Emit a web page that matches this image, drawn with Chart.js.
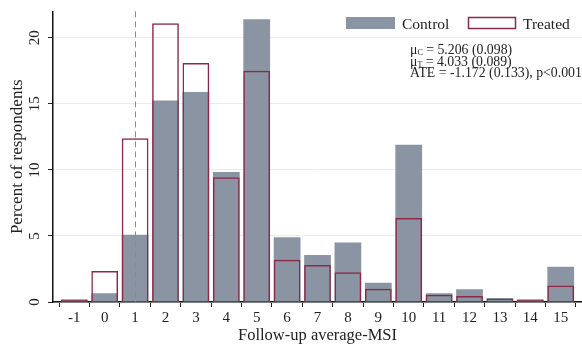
<!DOCTYPE html>
<html>
<head>
<meta charset="utf-8">
<script src="https://cdn.jsdelivr.net/npm/chart.js@4.4.1/dist/chart.umd.min.js"></script>
<style>
  html, body { margin: 0; padding: 0; background: #fff; }
  #wrap { width: 582px; height: 349px; }
</style>
</head>
<body>
<div id="wrap"><canvas id="msiChart"></canvas></div>
<script>
// follow-up average MSI, percent of respondents per bin
const msiBins = [-1, 0, 1, 2, 3, 4, 5, 6, 7, 8, 9, 10, 11, 12, 13, 14, 15];
const controlPct = [0.2, 0.67, 5.1, 15.25, 15.9, 9.85, 21.4, 4.9, 3.55, 4.5, 1.45, 11.9, 0.67, 0.97, 0.3, 0.2, 2.67];
const treatedPct = [0.15, 2.35, 12.4, 21.1, 18.1, 9.45, 17.5, 3.2, 2.8, 2.25, 1.0, 6.35, 0.55, 0.45, 0.25, 0.15, 1.25];
const yTicks = [0, 5, 10, 15, 20];
const cutoff = 1;
const statLines = [
  ['\u03bc', 'C', ' = 5.206 (0.098)'],
  ['\u03bc', 'T', ' = 4.033 (0.089)'],
  ['ATE = -1.172 (0.133), p<0.001', '', '']
];

const serif = '"Liberation Serif", "DejaVu Serif", serif';
const grey = '#8a94a2';
const maroon = '#8b2a48';

const extras = {
  id: 'extras',
  afterDatasetsDraw(chart) {
    const ctx = chart.ctx;
    const x = chart.scales.x;
    const area = chart.chartArea;
    ctx.save();
    // dashed reference line
    ctx.strokeStyle = '#8c8c8c';
    ctx.lineWidth = 1;
    ctx.setLineDash([6, 4]);
    const cx = Math.round(x.getPixelForValue(cutoff)) + 0.5;
    ctx.beginPath();
    ctx.moveTo(cx, area.top);
    ctx.lineTo(cx, area.bottom);
    ctx.stroke();
    ctx.setLineDash([]);
    ctx.restore();
  },
  afterDraw(chart) {
    const ctx = chart.ctx;
    const y = chart.scales.y;
    ctx.save();
    // rotated y tick labels
    ctx.fillStyle = '#222';
    ctx.font = '15px ' + serif;
    ctx.textAlign = 'center';
    ctx.textBaseline = 'middle';
    yTicks.forEach(v => {
      ctx.save();
      ctx.translate(35, y.getPixelForValue(v));
      ctx.rotate(-Math.PI / 2);
      ctx.fillText(String(v), 0, 0);
      ctx.restore();
    });

    // legend
    ctx.textAlign = 'left';
    ctx.textBaseline = 'alphabetic';
    ctx.font = '15.5px ' + serif;
    ctx.fillStyle = grey;
    ctx.fillRect(346, 17, 49, 12);
    ctx.fillStyle = '#222';
    ctx.fillText(chart.data.datasets[1].label, 402, 29);
    ctx.strokeStyle = maroon;
    ctx.lineWidth = 1.5;
    ctx.strokeRect(468.5, 17.5, 47, 11);
    ctx.fillText(chart.data.datasets[0].label, 523, 29);

    // stats text
    let base = 54;
    statLines.forEach(parts => {
      let tx = 410;
      ctx.font = '13.8px ' + serif;
      ctx.fillText(parts[0], tx, base);
      tx += ctx.measureText(parts[0]).width;
      if (parts[1]) {
        ctx.font = '8px ' + serif;
        ctx.fillText(parts[1], tx, base + 1);
        tx += ctx.measureText(parts[1]).width;
        ctx.font = '13.8px ' + serif;
        ctx.fillText(parts[2], tx, base);
      }
      base += 11.7;
    });
    ctx.restore();
  }
};

new Chart(document.getElementById('msiChart'), {
  type: 'bar',
  data: {
    datasets: [
      {
        label: 'Treated',
        data: msiBins.map((b, i) => ({ x: b, y: treatedPct[i] })),
        backgroundColor: 'rgba(0,0,0,0)',
        borderColor: maroon,
        borderWidth: 1.5,
        categoryPercentage: 1,
        barPercentage: 0.88,
        grouped: false,
        order: 0
      },
      {
        label: 'Control',
        data: msiBins.map((b, i) => ({ x: b, y: controlPct[i] })),
        backgroundColor: grey,
        borderWidth: 0,
        categoryPercentage: 1,
        barPercentage: 0.88,
        grouped: false,
        order: 1
      }
    ]
  },
  options: {
    responsive: true,
    maintainAspectRatio: false,
    animation: false,
    layout: { padding: { top: 6, right: 0, left: 0, bottom: 0 } },
    plugins: { legend: { display: false }, tooltip: { enabled: false } },
    scales: {
      x: {
        type: 'linear',
        min: -1.7,
        max: 15.7,
        offset: false,
        afterBuildTicks: s => { s.ticks = msiBins.map(v => ({ value: v })); },
        afterFit: s => { s.height = 47; },
        grid: { drawOnChartArea: false, drawTicks: true, tickLength: 5, color: '#222', lineWidth: 1 },
        border: { display: true, color: '#111', width: 1.5 },
        ticks: { color: '#222', font: { family: serif, size: 15 }, padding: 2, maxRotation: 0, autoSkip: false },
        title: { display: true, text: 'Follow-up average-MSI', color: '#222', font: { family: serif, size: 16.5 }, padding: { top: 0, bottom: 3 } }
      },
      y: {
        min: 0,
        max: 22,
        afterBuildTicks: s => { s.ticks = yTicks.map(v => ({ value: v })); },
        afterFit: s => { s.width = 53; },
        grid: { color: '#e6eef0', lineWidth: 1, tickLength: 5, tickColor: '#222' },
        border: { display: true, color: '#111', width: 1.5 },
        ticks: { color: 'rgba(0,0,0,0)', font: { family: serif, size: 14 } },
        title: { display: true, text: 'Percent of respondents', color: '#222', font: { family: serif, size: 17 }, padding: { top: 7, bottom: 0 } }
      }
    }
  },
  plugins: [extras]
});
</script>
</body>
</html>
